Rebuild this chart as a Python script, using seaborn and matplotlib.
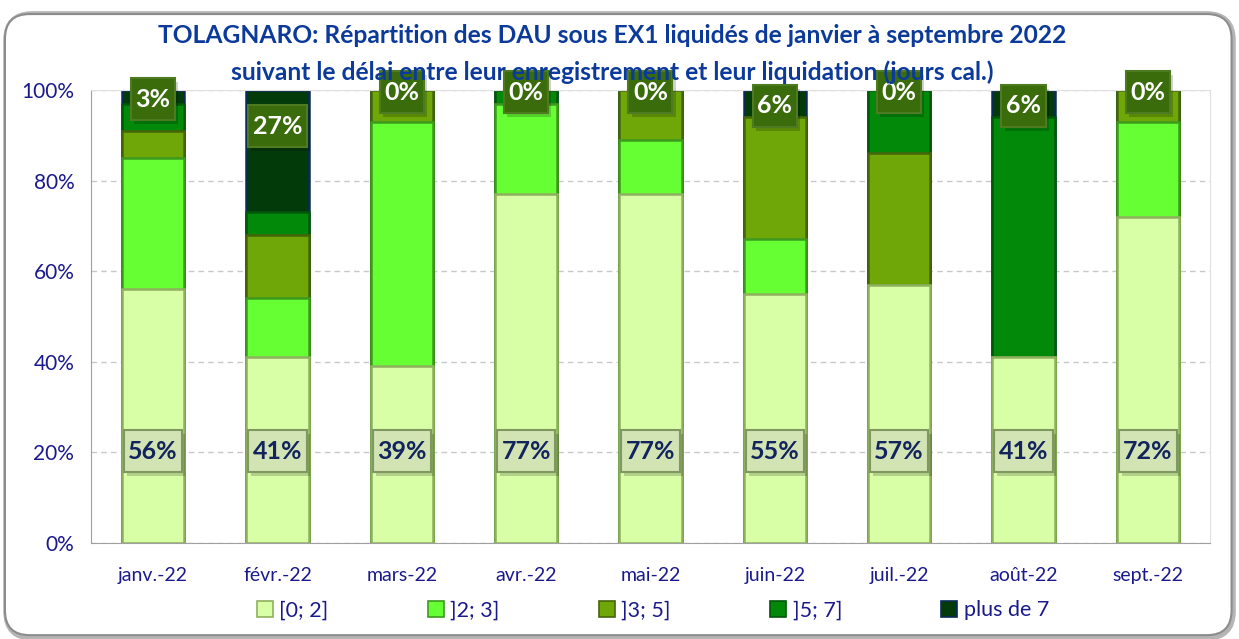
import matplotlib
matplotlib.use("Agg")
import matplotlib.pyplot as plt
import seaborn as sns
import pandas as pd
import numpy as np
from matplotlib.patches import Patch, FancyBboxPatch, Rectangle

# data (shares in %)
months = ["janv.-22", "févr.-22", "mars-22", "avr.-22", "mai-22",
          "juin-22", "juil.-22", "août-22", "sept.-22"]
series = ["[0; 2]", "]2; 3]", "]3; 5]", "]5; 7]", "plus de 7"]
s_0_2 = [56, 41, 39, 77, 77, 55, 57, 41, 72]
s_2_3 = [29, 13, 54, 20, 12, 12, 0, 0, 21]
s_3_5 = [6, 14, 7, 0, 11, 27, 29, 0, 7]
s_5_7 = [6, 5, 0, 3, 0, 0, 14, 53, 0]
s_7p = [3, 27, 0, 0, 0, 6, 0, 6, 0]

colors = ["#D8FFA6", "#66FF33", "#6FA608", "#02890A", "#033A0A"]
edges = ["#8FB05E", "#3C9A1E", "#45650A", "#01570A", "#0A2A5A"]
navy = "#1A1A8C"
title_col = "#0B3A9B"

df = pd.DataFrame({"mois": months, series[0]: s_0_2, series[1]: s_2_3,
                   series[2]: s_3_5, series[3]: s_5_7, series[4]: s_7p})
cum = df[series].cumsum(axis=1)

sns.set_style("white")
plt.rcParams["font.family"] = ["Lato", "DejaVu Sans"]

fig = plt.figure(figsize=(12.39, 6.39), dpi=100)
ax = fig.add_axes([0.0734, 0.1502, 0.9032, 0.709])

# frame with shadow
shadow = FancyBboxPatch((0.006, 0.004), 0.988, 0.972, boxstyle="round,pad=0,rounding_size=0.02",
                        transform=fig.transFigure, facecolor="none", edgecolor="#b5b5b5",
                        lw=6, zorder=-2, mutation_aspect=1.94)
frame = FancyBboxPatch((0.004, 0.006), 0.99, 0.972, boxstyle="round,pad=0,rounding_size=0.02",
                       transform=fig.transFigure, facecolor="white", edgecolor="#8c8c8c",
                       lw=1.5, zorder=-1, mutation_aspect=1.94)
fig.patches.extend([shadow, frame])

# stacked bars: draw cumulative totals from the top series down
for i in range(len(series) - 1, -1, -1):
    sns.barplot(x=df["mois"], y=cum[series[i]], color=colors[i], width=0.5,
                edgecolor=edges[i], linewidth=1.8, ax=ax, saturation=1, zorder=2)

ax.set_ylim(0, 100)
ax.set_xlim(-0.5, len(months) - 0.5)
ax.set_yticks(np.arange(0, 101, 20))
ax.set_yticklabels([f"{v}%" for v in range(0, 101, 20)], color=navy, fontsize=15)
ax.set_xticks(range(len(months)))
ax.set_xticklabels(months, color=navy, fontsize=14)
ax.set_xticks(np.arange(-0.5, len(months), 1), minor=True)
ax.tick_params(axis="x", which="major", length=0, pad=17)
ax.tick_params(axis="x", which="minor", length=9, color="#a0a0a0", direction="out")
ax.tick_params(axis="y", length=6, color="#a0a0a0", direction="out", pad=6)
ax.set_xlabel("")
ax.set_ylabel("")
ax.yaxis.grid(True, linestyle=(0, (4, 3)), color="#c8c8c8", lw=1)
ax.set_axisbelow(True)
for side in ["left", "bottom"]:
    ax.spines[side].set_color("#a0a0a0")
for side in ["top", "right"]:
    ax.spines[side].set_color("#e0e0e0")


def label_box(x, y, txt, fc, ec, tc):
    n = len(txt)
    w = (15 + 14.5 * n) / 124.3
    h = 9.3
    ax.add_patch(Rectangle((x - w / 2 + 0.025, y - h / 2 - 0.9), w, h, fc="#000000",
                           alpha=0.18, ec="none", zorder=4, clip_on=False))
    ax.add_patch(Rectangle((x - w / 2, y - h / 2), w, h, fc=fc, ec=ec, lw=1.5,
                           zorder=5, clip_on=False))
    ax.text(x, y, txt, ha="center", va="center", fontsize=18, fontweight="bold",
            color=tc, zorder=6)


# labels: first series at the base, last series at the top
for k, m in enumerate(months):
    label_box(k, 20.3, f"{s_0_2[k]}%", "#D2E4B4", "#7E9860", "#12235E")
    yl = 100 - min(s_7p[k] / 2 + 0.5, 8)
    label_box(k, yl, f"{s_7p[k]}%", "#3A6C0B", "#4E7A22", "white")

fig.text(0.494, 0.944, "TOLAGNARO: Répartition des DAU sous EX1 liquidés de janvier à septembre 2022",
         ha="center", va="center", fontsize=17.7, fontweight="bold", color=title_col)
fig.text(0.494, 0.887, "suivant le délai entre leur enregistrement et leur liquidation (jours cal.)",
         ha="center", va="center", fontsize=17.7, fontweight="bold", color=title_col, zorder=1)

handles = [Patch(facecolor=colors[i], edgecolor=edges[i], lw=1.2) for i in range(len(series))]
leg = fig.legend(handles, series, loc="center", bbox_to_anchor=(0.527, 0.045), ncol=5,
                 frameon=False, fontsize=15.5, handlelength=0.75, handleheight=0.75,
                 handletextpad=0.3, columnspacing=4.6)
for t in leg.get_texts():
    t.set_color(navy)

fig.savefig("out.png", dpi=100)
